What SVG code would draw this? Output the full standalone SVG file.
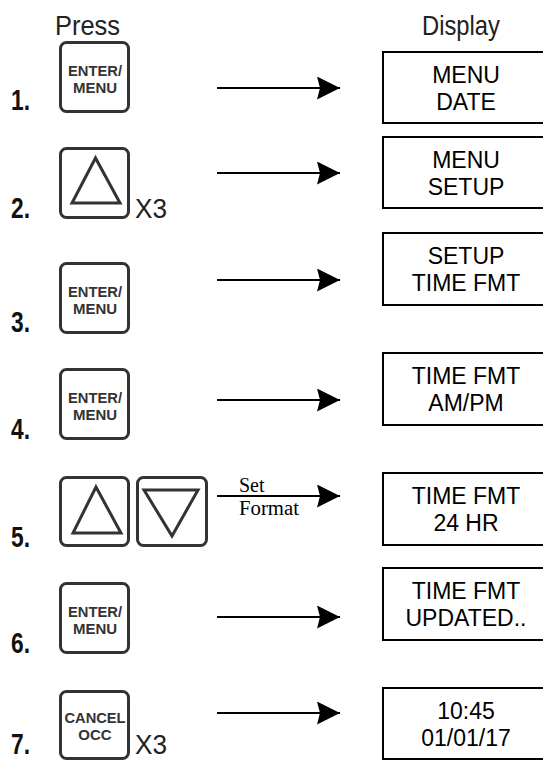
<svg xmlns="http://www.w3.org/2000/svg" width="543" height="761" viewBox="0 0 543 761">
<defs>
<style>
.hdr{font-family:"Liberation Sans",Arial,sans-serif;font-size:28px;fill:#222}
.num{font-family:"Liberation Sans",Arial,sans-serif;font-size:29px;font-weight:bold;fill:#111}
.x3{font-family:"Liberation Sans",Arial,sans-serif;font-size:28px;fill:#222}
.btn{fill:#fff;stroke:#333;stroke-width:3}
.tri{fill:none;stroke:#333;stroke-width:3;stroke-linejoin:miter}
.bl{font-family:"Liberation Sans",Arial,sans-serif;font-size:15px;font-weight:bold;fill:#333;text-anchor:middle}
.disp{fill:#fff;stroke:#000;stroke-width:2}
.dt{font-family:"Liberation Sans",Arial,sans-serif;font-size:23px;fill:#000;text-anchor:middle}
.conn line{stroke:#000;stroke-width:2}
.lbl{font-family:"Liberation Serif","Times New Roman",serif;font-size:20px;fill:#000}
</style>
<marker id="ah" viewBox="0 0 23 23" refX="23" refY="11.5" markerWidth="23" markerHeight="23" markerUnits="userSpaceOnUse" orient="auto">
<path d="M0,0 L23,11.5 L0,23 L3,11.5 Z" fill="#000"/>
</marker>
</defs>
<rect width="543" height="761" fill="#fff"/>

<g id="headers">
<text class="hdr" x="55" y="35" textLength="65" lengthAdjust="spacingAndGlyphs">Press</text>
<text class="hdr" x="422" y="35" textLength="78" lengthAdjust="spacingAndGlyphs">Display</text>
</g>

<g id="step1">
<text class="num" x="11" y="110" textLength="19" lengthAdjust="spacingAndGlyphs">1.</text>
<rect class="btn" x="60.5" y="42.5" width="68" height="69" rx="6"/>
<text class="bl" x="95" y="76" textLength="54" lengthAdjust="spacingAndGlyphs">ENTER/</text>
<text class="bl" x="95" y="93">MENU</text>
</g>

<g id="step2">
<text class="num" x="11" y="218" textLength="19" lengthAdjust="spacingAndGlyphs">2.</text>
<rect class="btn" x="60.5" y="148.5" width="68" height="69" rx="6"/>
<polygon class="tri" points="95.5,158 72,203 120,203"/>
<text class="x3" x="135" y="218" textLength="32" lengthAdjust="spacingAndGlyphs">X3</text>
</g>

<g id="step3">
<text class="num" x="11" y="332" textLength="19" lengthAdjust="spacingAndGlyphs">3.</text>
<rect class="btn" x="60.5" y="263.5" width="68" height="69" rx="6"/>
<text class="bl" x="95" y="297" textLength="54" lengthAdjust="spacingAndGlyphs">ENTER/</text>
<text class="bl" x="95" y="314">MENU</text>
</g>

<g id="step4">
<text class="num" x="11" y="439" textLength="19" lengthAdjust="spacingAndGlyphs">4.</text>
<rect class="btn" x="60.5" y="369.5" width="68" height="69" rx="6"/>
<text class="bl" x="95" y="403" textLength="54" lengthAdjust="spacingAndGlyphs">ENTER/</text>
<text class="bl" x="95" y="420">MENU</text>
</g>

<g id="step5">
<text class="num" x="11" y="547" textLength="19" lengthAdjust="spacingAndGlyphs">5.</text>
<rect class="btn" x="60.5" y="477.5" width="68" height="68" rx="6"/>
<polygon class="tri" points="96,487 73,533 121,533"/>
<rect class="btn" x="137.5" y="477.5" width="69" height="68" rx="6"/>
<polygon class="tri" points="144,490 198,490 172,536"/>
</g>

<g id="step6">
<text class="num" x="11" y="653" textLength="19" lengthAdjust="spacingAndGlyphs">6.</text>
<rect class="btn" x="60.5" y="583.5" width="68" height="69" rx="6"/>
<text class="bl" x="95" y="617" textLength="54" lengthAdjust="spacingAndGlyphs">ENTER/</text>
<text class="bl" x="95" y="634">MENU</text>
</g>

<g id="step7">
<text class="num" x="11" y="754" textLength="19" lengthAdjust="spacingAndGlyphs">7.</text>
<rect class="btn" x="60.5" y="691.5" width="68" height="67" rx="6"/>
<text class="bl" x="95" y="723" textLength="61" lengthAdjust="spacingAndGlyphs">CANCEL</text>
<text class="bl" x="95" y="740">OCC</text>
<text class="x3" x="135" y="754" textLength="32" lengthAdjust="spacingAndGlyphs">X3</text>
</g>

<g id="display1">
<rect class="disp" x="383" y="52" width="175" height="71"/>
<text class="dt" x="466" y="83">MENU</text>
<text class="dt" x="466" y="110">DATE</text>
</g>
<g id="display2">
<rect class="disp" x="383" y="137" width="175" height="71"/>
<text class="dt" x="466" y="168">MENU</text>
<text class="dt" x="466" y="195">SETUP</text>
</g>
<g id="display3">
<rect class="disp" x="383" y="233" width="175" height="72"/>
<text class="dt" x="466" y="264">SETUP</text>
<text class="dt" x="466" y="291">TIME FMT</text>
</g>
<g id="display4">
<rect class="disp" x="383" y="353" width="175" height="72"/>
<text class="dt" x="466" y="384">TIME FMT</text>
<text class="dt" x="466" y="411">AM/PM</text>
</g>
<g id="display5">
<rect class="disp" x="383" y="473" width="175" height="72"/>
<text class="dt" x="466" y="504">TIME FMT</text>
<text class="dt" x="466" y="531">24 HR</text>
</g>
<g id="display6">
<rect class="disp" x="383" y="568" width="175" height="72"/>
<text class="dt" x="466" y="599">TIME FMT</text>
<text class="dt" x="466" y="626">UPDATED..</text>
</g>
<g id="display7">
<rect class="disp" x="383" y="688" width="175" height="71"/>
<text class="dt" x="466" y="719">10:45</text>
<text class="dt" x="466" y="746">01/01/17</text>
</g>

<g id="connectors" class="conn">
<line x1="217" y1="88" x2="340" y2="88" marker-end="url(#ah)"/>
<line x1="217" y1="173" x2="340" y2="173" marker-end="url(#ah)"/>
<line x1="217" y1="280" x2="340" y2="280" marker-end="url(#ah)"/>
<line x1="217" y1="400" x2="340" y2="400" marker-end="url(#ah)"/>
<line x1="217" y1="496" x2="340" y2="496" marker-end="url(#ah)"/>
<line x1="217" y1="617" x2="340" y2="617" marker-end="url(#ah)"/>
<line x1="217" y1="713" x2="340" y2="713" marker-end="url(#ah)"/>
<text class="lbl" x="239" y="492">Set</text>
<text class="lbl" x="239" y="515" textLength="60" lengthAdjust="spacingAndGlyphs">Format</text>
</g>
</svg>
